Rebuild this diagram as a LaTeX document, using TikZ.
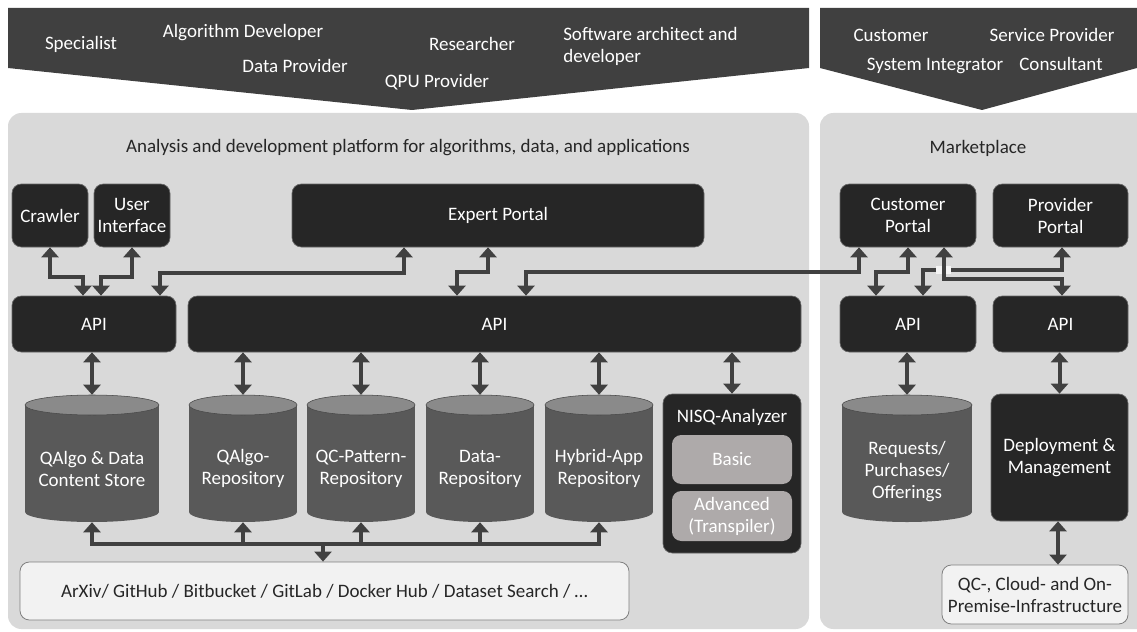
\documentclass[tikz,border=0pt]{standalone}
\usepackage{fontspec}
\setmainfont{Carlito}
\usetikzlibrary{arrows.meta,calc}
\definecolor{banner}{HTML}{404040}
\definecolor{panel}{HTML}{D9D9D9}
\definecolor{boxc}{HTML}{262626}
\definecolor{cylbody}{HTML}{595959}
\definecolor{cyltop}{HTML}{8A8A8A}
\definecolor{innerc}{HTML}{AEAAAA}
\definecolor{lightbox}{HTML}{F2F2F2}
\definecolor{arrowc}{HTML}{404040}
% box node from pixel corners: style, name, x1, y1, x2, y2, text
\newcommand\bx[7]{%
  \node[#1, minimum width={(#5-#3)*0.75pt}, minimum height={(#6-#4)*0.75pt}]
    (#2) at ({(#3+#5)/2},{(#4+#6)/2}) {#7};}
\newcommand\mycyl[5]{%
  \fill[cylbody] (#2-#3,405) rectangle (#2+#3,512);
  \fill[cylbody] (#2,512) ellipse[x radius=#3, y radius=10];
  \fill[cyltop] (#2,405) ellipse[x radius=#3, y radius=10];
  \draw[cylbody!80!black, line width=0.4pt] (#2,405) ellipse[x radius=#3, y radius=10];
  \bx{}{#1}{#2-#3}{395}{#2+#3}{522}{}
  \node[wtext] (#1T) at ($(#1.center)+(0,#4)$) {#5};
}
\begin{document}
\begin{tikzpicture}[x=0.75pt,y=-0.75pt,
  every node/.style={font=\fontsize{14.25}{16.5}\selectfont, align=center, inner sep=0pt},
  wtext/.style={text=white},
  dtext/.style={text=boxc},
  dbox/.style={fill=boxc, draw=black!60, line width=0.5pt, rounded corners=7pt, text=white},
  ibox/.style={fill=innerc, rounded corners=7pt, text=white},
  lbox/.style={fill=lightbox, draw=black!50, line width=0.6pt, rounded corners=7pt, text=boxc},
  biar/.style={draw=arrowc, line width=3pt, {Triangle[width=12.75pt,length=7.5pt]}-{Triangle[width=12.75pt,length=7.5pt]}},
  uar/.style={draw=arrowc, line width=3pt, -{Triangle[width=12.75pt,length=7.5pt]}}
]
\useasboundingbox (0,0) rectangle (1137,631);
\fill[white] (0,0) rectangle (1137,631);

% banners
\fill[banner] (8,8) -- (809,8) -- (809,68) -- (412,110) -- (8,68) -- cycle;
\fill[banner] (820,8) -- (1137,8) -- (1137,68) -- (982,110) -- (820,68) -- cycle;
\node[wtext] (r1) at (81,44) {Specialist};
\node[wtext] (r2) at (243,33) {Algorithm Developer};
\node[wtext] (r3) at (295,66) {Data Provider};
\node[wtext] (r4) at (472,44) {Researcher};
\node[wtext] (r5) at (437,82) {QPU Provider};
\node[wtext, align=left, anchor=west] (r6) at (563,46) {Software architect and\\developer};
\node[wtext] (m1) at (891,35) {Customer};
\node[wtext] (m2) at (1052,35) {Service Provider};
\node[wtext] (m3) at (935,66) {System Integrator};
\node[wtext] (m4) at (1061,64) {Consultant};

% panels
\fill[panel, rounded corners=10pt] (8,113) rectangle (809,629);
\fill[panel, rounded corners=10pt] (820,113) rectangle (1160,629);
\node[dtext] (title1) at (408,148) {Analysis and development platform for algorithms, data, and applications};
\node[dtext] (title2) at (978,148) {Marketplace};

% top row
\bx{dbox}{crawler}{12}{184}{88}{247}{Crawler}
\bx{dbox}{ui}{94}{184}{170}{247}{User\\Interface}
\bx{dbox}{expert}{292}{184}{704}{247}{Expert Portal}
\bx{dbox}{customer}{840}{184}{976}{247}{Customer\\Portal}
\bx{dbox}{provider}{993}{184}{1128}{247}{Provider\\Portal}

% API row
\bx{dbox}{apiL}{12}{296}{176}{352}{API}
\bx{dbox}{apiB}{188}{296}{801}{352}{API}
\bx{dbox}{api1}{840}{296}{976}{352}{API}
\bx{dbox}{api2}{993}{296}{1128}{352}{API}

% stores
\mycyl{store}{92}{67}{10}{QAlgo \& Data\\Content Store}
\mycyl{qrepo}{243}{54}{10}{QAlgo-\\Repository}
\mycyl{qcpat}{361}{54}{10}{QC-Pattern-\\Repository}
\mycyl{drepo}{480}{54}{10}{Data-\\Repository}
\mycyl{hrepo}{599}{54}{10}{Hybrid-App\\Repository}
\mycyl{requests}{907}{65}{13}{Requests/\\Purchases/\\Offerings}

\bx{dbox}{nisq}{663}{394}{801}{553}{}
\node[wtext] (nisqT) at (732,417) {NISQ-Analyzer};
\bx{ibox}{basic}{672}{435}{792}{484}{Basic}
\bx{ibox}{adv}{672}{491}{792}{541}{Advanced\\(Transpiler)}
\bx{dbox}{deploy}{991}{394}{1128}{521}{Deployment \&\\Management}

\bx{lbox}{arxiv}{20}{562}{629}{620}{ArXiv/ GitHub / Bitbucket / GitLab / Docker Hub / Dataset Search / \dots}
\bx{lbox}{infra}{942}{565}{1128}{624}{QC-, Cloud- and On-\\Premise-Infrastructure}

% connectors top
\draw[biar] (crawler.south) |- (83,277) -- (83,0 |- apiL.north);
\draw[biar] (ui.south) |- (101,277) -- (101,0 |- apiL.north);
\draw[biar] (404,0 |- expert.south) |- (160,273) -- (160,0 |- apiL.north);
\draw[biar] (488,0 |- expert.south) |- (457,272) -- (457,0 |- apiB.north);
\draw[biar] (859,0 |- customer.south) |- (526,272) -- (526,0 |- apiB.north);
\draw[biar] (908,0 |- customer.south) |- (876,272) -- (876,0 |- api1.north);
\draw[biar] (1062,0 |- provider.south) |- (923,270) -- (923,0 |- api1.north);
\fill[white!70!panel] (936,266) rectangle (951,274);
\draw[biar] (944,0 |- customer.south) |- (1062,279) -- (1062,0 |- api2.north);

% API to stores
\draw[biar] (apiL.south -| store.north) -- (store.north);
\draw[biar] (apiB.south -| qrepo.north) -- (qrepo.north);
\draw[biar] (apiB.south -| qcpat.north) -- (qcpat.north);
\draw[biar] (apiB.south -| drepo.north) -- (drepo.north);
\draw[biar] (apiB.south -| hrepo.north) -- (hrepo.north);
\draw[biar] (apiB.south -| nisq.north) -- (nisq.north);
\draw[biar] (api1.south -| requests.north) -- (requests.north);
\draw[biar] (api2.south -| deploy.north) -- (deploy.north);
\draw[biar] (1058,0 |- deploy.south) -- (1058,0 |- infra.north);

% bottom bus
\coordinate (hub) at (323,544);
\draw[biar] (store.south) |- (hub) -| (hrepo.south);
\draw[uar] (qrepo.south |- hub) -- (qrepo.south);
\draw[uar] (qcpat.south |- hub) -- (qcpat.south);
\draw[uar] (drepo.south |- hub) -- (drepo.south);
\draw[uar] (hub) -- (hub |- arxiv.north);
\end{tikzpicture}
\end{document}
